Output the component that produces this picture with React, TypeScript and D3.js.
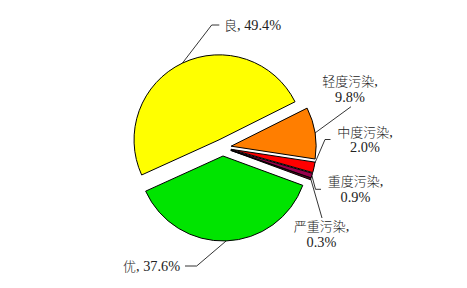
import React from "react";
import * as d3 from "d3";

// Air quality grade shares (%)
const categories = ["优", "良", "轻度污染", "中度污染", "重度污染", "严重污染"];
const shares = [37.6, 49.4, 9.8, 2.0, 0.9, 0.3];
const colors = ["#00E400", "#FFFF00", "#FF7E00", "#FF0000", "#99004C", "#7E0023"];

const W = 467;
const H = 288;
const CX = 222.7;
const CY = 147.5;
const R = 85;
const EXPLODE = 8.5;
const START_DEG = 110.2;

const LATIN_FONT = "'Times New Roman', 'Liberation Serif', serif";
const CJK_FONT = "'Noto Sans CJK SC', sans-serif";
const CJK_FS = 13;
const LATIN_FS = 14.3;

type LabelSpec = {
  inline: boolean;
  x: number;
  y: number; // baseline of first line
  anchor: "start" | "middle";
  edgeOffsetDeg: number | null; // leader start angle offset from slice start; null = mid angle
  path: [number, number][]; // leader points after the slice edge
};

// Label placement for each slice, in the same order as the categories
const labelSpecs: LabelSpec[] = [
  { inline: true, x: 123, y: 270.5, anchor: "start", edgeOffsetDeg: null, path: [[196.7, 266], [185, 266]] },
  { inline: true, x: 224, y: 30, anchor: "start", edgeOffsetDeg: null, path: [[211.7, 25], [219.3, 25]] },
  { inline: false, x: 350, y: 86, anchor: "middle", edgeOffsetDeg: null, path: [[351, 106.7]] },
  { inline: false, x: 365, y: 136.5, anchor: "middle", edgeOffsetDeg: 0.6, path: [[325, 139.5], [330.5, 139.5]] },
  { inline: false, x: 355.5, y: 186, anchor: "middle", edgeOffsetDeg: null, path: [[315.5, 189.3], [321, 189.3]] },
  { inline: false, x: 321.5, y: 231, anchor: "middle", edgeOffsetDeg: null, path: [[322, 218]] },
];

const fmt = (v: number) => `${v.toFixed(1)}%`;

export default function App() {
  const data = categories.map((c, i) => ({ name: c, value: shares[i], color: colors[i] }));
  const start = (START_DEG * Math.PI) / 180;
  const pie = d3
    .pie<{ name: string; value: number; color: string }>()
    .sort(null)
    .value((d) => d.value)
    .startAngle(start)
    .endAngle(start + 2 * Math.PI);
  const arcs = pie(data);
  const arc = d3.arc<d3.PieArcDatum<any>>().innerRadius(0).outerRadius(R);

  return (
    <svg
      width={W}
      height={H}
      style={{ position: "absolute", left: 0, top: 0, background: "#fff" }}
    >
      {arcs.map((a, i) => {
        const mid = (a.startAngle + a.endAngle) / 2;
        const ox = CX + EXPLODE * Math.sin(mid);
        const oy = CY - EXPLODE * Math.cos(mid);
        return (
          <path
            key={`s${i}`}
            d={arc(a) || ""}
            transform={`translate(${ox},${oy})`}
            fill={a.data.color}
            stroke="#000"
            strokeWidth={1}
            strokeLinejoin="round"
          />
        );
      })}
      {arcs.map((a, i) => {
        const spec = labelSpecs[i];
        const mid = (a.startAngle + a.endAngle) / 2;
        const ox = CX + EXPLODE * Math.sin(mid);
        const oy = CY - EXPLODE * Math.cos(mid);
        const ang =
          spec.edgeOffsetDeg == null ? mid : a.startAngle + (spec.edgeOffsetDeg * Math.PI) / 180;
        const ex = ox + R * Math.sin(ang);
        const ey = oy - R * Math.cos(ang);
        const pts: [number, number][] = [[ex, ey], ...spec.path];
        const line = d3.line()(pts) || "";
        return (
          <g key={`l${i}`} fill="#222">
            <path d={line} fill="none" stroke="#000" strokeWidth={0.8} />
            {spec.inline ? (
              <text x={spec.x} y={spec.y} textAnchor={spec.anchor}>
                <tspan fontFamily={CJK_FONT} fontSize={CJK_FS} fontWeight={300}>{a.data.name}</tspan>
                <tspan fontFamily={LATIN_FONT} fontSize={LATIN_FS}>{`, ${fmt(a.data.value)}`}</tspan>
              </text>
            ) : (
              <>
                <text x={spec.x} y={spec.y} textAnchor={spec.anchor}>
                  <tspan fontFamily={CJK_FONT} fontSize={CJK_FS} fontWeight={300}>{a.data.name}</tspan>
                  <tspan fontFamily={LATIN_FONT} fontSize={LATIN_FS}>,</tspan>
                </text>
                <text
                  x={spec.x}
                  y={spec.y + 15.8}
                  textAnchor={spec.anchor}
                  fontFamily={LATIN_FONT}
                  fontSize={LATIN_FS}
                >
                  {fmt(a.data.value)}
                </text>
              </>
            )}
          </g>
        );
      })}
    </svg>
  );
}
